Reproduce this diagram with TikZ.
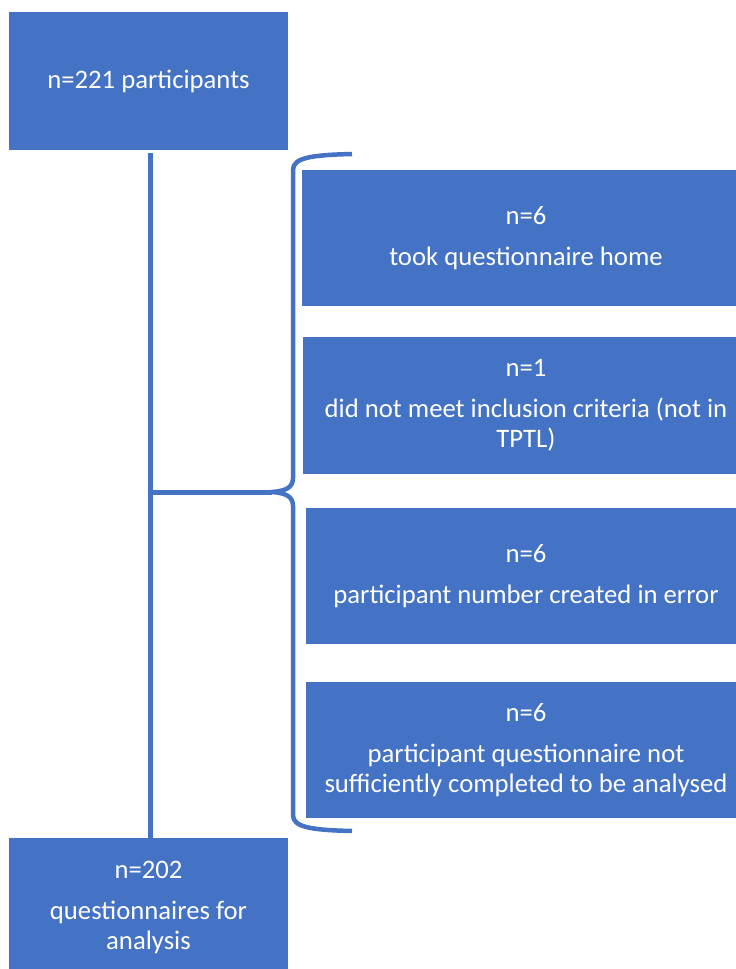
\documentclass[tikz,border=0pt]{standalone}
\usepackage{fontspec}
\setmainfont{Carlito}
\definecolor{blu}{HTML}{4472C4}
\begin{document}
\begin{tikzpicture}[x=1pt,y=-1pt]
\useasboundingbox (0,0) rectangle (736,969);
\clip (0,0) rectangle (736,969);
\tikzset{
  box/.style={fill=blu, draw=none, text=white, align=center,
    font=\fontsize{26.7}{30}\selectfont, inner sep=0pt},
  conn/.style={draw=blu, line width=5pt},
  brace/.style={draw=blu, line width=4.5pt}
}
\node[box, minimum width=279pt, minimum height=138pt] (top) at (148.5,81) {n=221 participants};
\node[box, minimum width=279pt, minimum height=138pt] (bot) at (148.5,907) {n=202\\[11pt]questionnaires for\\analysis};
\node[box, minimum width=448pt, minimum height=136pt] (e1) at (526,238) {n=6\\[11pt]took questionnaire home};
\node[box, minimum width=446pt, minimum height=137pt] (e2) at (526,405.5) {n=1\\[11pt]did not meet inclusion criteria (not in\\TPTL)};
\node[box, minimum width=440pt, minimum height=136pt] (e3) at (526,576) {n=6\\[11pt]participant number created in error};
\node[box, minimum width=440pt, minimum height=136pt] (e4) at (526,750) {n=6\\[11pt]participant questionnaire not\\sufficiently completed to be analysed};
% brace
\coordinate (bt) at (352,154);
\coordinate (tip) at (272,492);
\coordinate (bb) at (352,831);
\draw[brace] (bt) .. controls (310,155) and (293,158) .. (293,170) -- (293,478)
  .. controls (293,488) and (285,491) .. (tip)
  .. controls (285,493) and (293,496) .. (293,506) -- (293,815)
  .. controls (293,827) and (310,830) .. (bb);
% connectors
\draw[conn, shorten <=3pt] (top.south -| 150,0) -- (bot.north -| 150,0);
\coordinate (j) at (150,492);
\draw[conn] (j) -- (tip);
\end{tikzpicture}
\end{document}
